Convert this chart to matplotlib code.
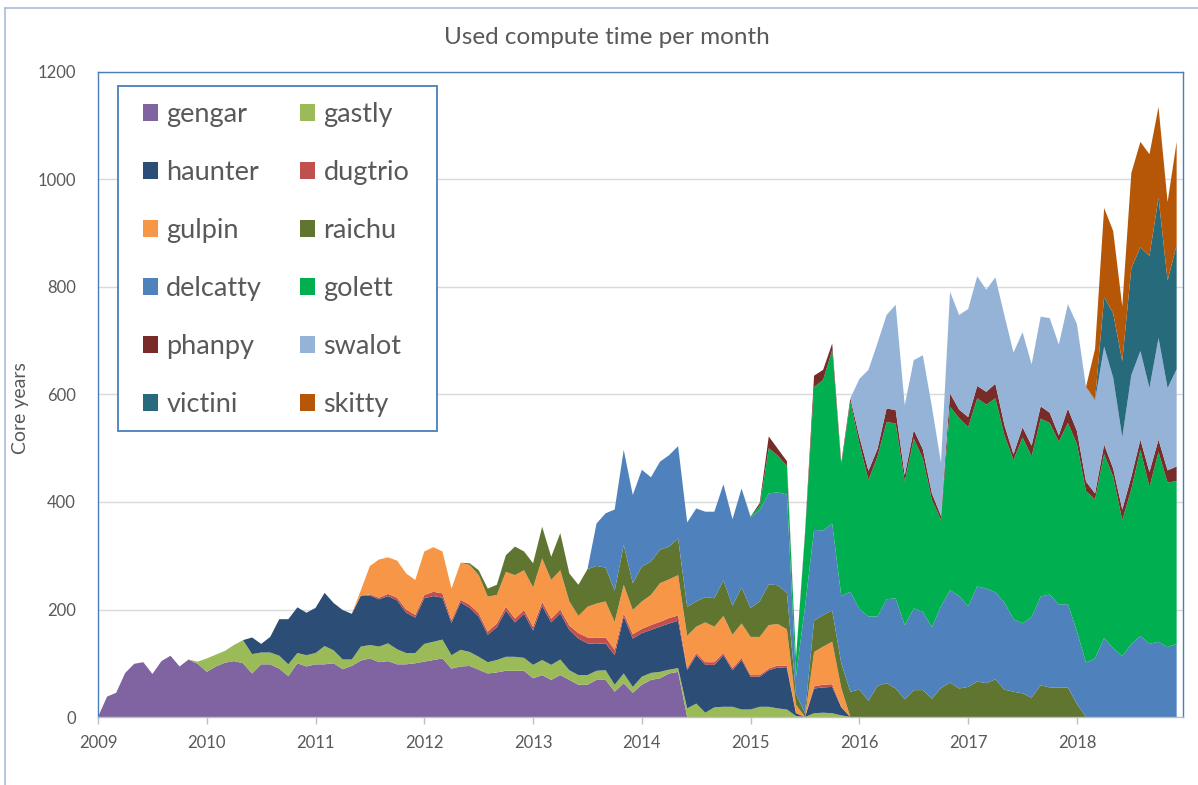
import numpy as np
import matplotlib
matplotlib.use("Agg")
import matplotlib.pyplot as plt
from matplotlib.patches import Rectangle
from matplotlib.lines import Line2D

# ---------------- data (core years per month, Jan 2009 .. Dec 2018) ----------------
names = ["gengar", "gastly", "haunter", "dugtrio", "gulpin", "raichu",
         "delcatty", "golett", "phanpy", "swalot", "victini", "skitty"]
colors = ["#8064A2", "#9BBB59", "#2C4D75", "#C0504D", "#F79646", "#5F7530",
          "#4F81BD", "#00B050", "#772C2A", "#95B3D7", "#276A7C", "#B65708"]

gengar = [0, 38, 45, 82, 99, 102, 80, 104, 114, 94, 107, 99,
          84, 94, 101, 104, 100, 81, 98, 98, 90, 76, 100, 94,
          98, 98, 100, 89, 95, 105, 109, 102, 104, 98, 98, 100,
          103, 106, 109, 90, 94, 95, 88, 81, 83, 86, 86, 86,
          72, 78, 69, 78, 69, 60, 60, 69, 69, 47, 63, 45,
          60, 69, 72, 81, 84] + [0] * 55

gastly = [0, 0, 0, 0, 0, 0, 0, 0, 0, 0, 0, 4,
          25, 22, 22, 30, 43, 36, 22, 22, 24, 22, 19, 21,
          21, 34, 24, 18, 12, 26, 25, 29, 33, 28, 21, 19,
          33, 34, 35, 25, 31, 26, 24, 21, 23, 26, 26, 24,
          25, 28, 28, 29, 18, 18, 18, 17, 18, 13, 18, 11,
          15, 13, 12, 7, 7, 16, 25, 8, 18, 19, 19, 14,
          14, 19, 19, 16, 14, 2, 0, 7, 8, 7, 3, 0] + [0] * 36

haunter = [0] * 12 + [
          0, 0, 0, 0, 0, 31, 16, 29, 68, 84, 85, 79,
          84, 99, 88, 92, 85, 95, 92, 88, 88, 91, 75, 66,
          85, 85, 78, 60, 88, 82, 75, 51, 61, 86, 64, 82,
          64, 101, 79, 86, 75, 68, 59, 50, 50, 55, 106, 90,
          81, 80, 84, 86, 88, 71, 90, 89, 79, 96, 68, 92,
          61, 56, 68, 76, 77, 5, 0, 46, 47, 49, 15, 0] + [0] * 36

dugtrio = [0] * 24 + [
          0, 0, 0, 0, 0, 0, 2, 3, 4, 5, 6, 5,
          6, 8, 8, 5, 5, 6, 6, 6, 7, 7, 7, 7,
          7, 7, 7, 7, 8, 10, 11, 11, 11, 10, 6, 8,
          8, 9, 9, 10, 10, 4, 4, 5, 5, 4, 4, 4,
          3, 3, 3, 4, 4, 1, 0, 4, 5, 5, 1, 0] + [0] * 36

gulpin = [0] * 24 + [
          0, 0, 0, 0, 0, 10, 53, 71, 68, 69, 67, 65,
          81, 83, 78, 59, 69, 74, 71, 65, 53, 65, 81, 74,
          73, 81, 72, 73, 45, 32, 57, 64, 67, 52, 53, 45,
          51, 56, 72, 72, 75, 60, 49, 74, 66, 69, 62, 64,
          71, 71, 81, 77, 68, 15, 0, 64, 71, 79, 35, 0] + [0] * 36

raichu = [0] * 36 + [
          0, 0, 0, 0, 0, 3, 9, 15, 19, 31, 53, 35,
          45, 59, 43, 69, 52, 58, 70, 70, 63, 58, 74, 50,
          65, 62, 62, 61, 68, 54, 47, 47, 53, 66, 54, 67,
          54, 66, 76, 72, 68, 20, 7, 58, 59, 58, 46, 47,
          51, 30, 58, 63, 53, 33, 50, 50, 34, 54, 64, 53,
          56, 66, 63, 70, 51, 47, 44, 36, 59, 55, 55, 55,
          24, 0, 0, 0, 0, 0, 0, 0, 0, 0, 0, 0]

delcatty = [0] * 48 + [
          0, 0, 0, 0, 0, 0, 0, 79, 101, 151, 177, 164,
          180, 157, 164, 170, 172, 157, 173, 159, 161, 179, 161, 184,
          168, 170, 169, 173, 183, 32, 198, 169, 157, 162, 125, 186,
          150, 157, 129, 156, 168, 138, 152, 146, 133, 152, 172, 172,
          150, 177, 176, 162, 162, 135, 130, 150, 165, 173, 154, 155,
          135, 101, 109, 147, 128, 113, 136, 151, 136, 140, 130, 136]

golett = [0] * 72 + [
          2, 8, 84, 68, 53, 34, 133, 266, 280, 323, 243, 354,
          307, 254, 298, 330, 325, 267, 316, 285, 237, 161, 341, 331,
          333, 350, 342, 361, 311, 296, 346, 299, 331, 319, 303, 337,
          349, 319, 296, 342, 319, 253, 288, 346, 292, 353, 306, 303]

phanpy = [0] * 72 + [
          0, 5, 22, 13, 9, 0, 5, 21, 19, 12, 5, 6,
          13, 17, 14, 25, 25, 12, 16, 17, 12, 7, 25, 16,
          19, 23, 24, 27, 19, 11, 19, 20, 23, 19, 12, 27,
          24, 18, 11, 18, 15, 20, 23, 19, 28, 23, 23, 27]

swalot = [0] * 84 + [
          108, 188, 197, 174, 196, 130, 130, 175, 161, 99, 189, 176,
          201, 204, 190, 198, 204, 189, 177, 151, 167, 176, 169, 194,
          199, 176, 173, 182, 169, 134, 189, 165, 156, 189, 153, 181]

victini = [0] * 108 + [0, 0, 2, 92, 120, 142, 199, 193, 246, 261, 200, 231]

skitty = [0] * 108 + [0, 0, 94, 166, 153, 102, 177, 196, 189, 169, 146, 192]

year_ticks = [2009, 2010, 2011, 2012, 2013, 2014, 2015, 2016, 2017, 2018]
y_ticks = [0, 200, 400, 600, 800, 1000, 1200]

# ---------------- figure ----------------
plt.rcParams["font.family"] = ["Lato", "DejaVu Sans"]
W, H = 1198, 785
fig = plt.figure(figsize=(W / 100, H / 100), dpi=100)

def fx(px):
    return px / W

def fy(py):
    return 1 - py / H

ax = fig.add_axes([fx(98), fy(717), fx(1183) - fx(98), fy(72) - fy(717)])

series = [gengar, gastly, haunter, dugtrio, gulpin, raichu,
          delcatty, golett, phanpy, swalot, victini, skitty]
x = 2009 + np.arange(len(gengar)) / 12.0
polys = ax.stackplot(x, *[np.array(s, dtype=float) for s in series],
                     colors=colors, labels=names, linewidth=0, zorder=2)

ax.set_xlim(2009, 2018.975)
ax.set_ylim(0, 1200)
ax.set_yticks(y_ticks)
ax.set_xticks(year_ticks)
ax.set_xticklabels([str(y) for y in year_ticks])
ax.yaxis.grid(True, color="#D9D9D9", linewidth=1.0, zorder=0)
ax.set_axisbelow(True)

for side in ("left", "top", "right"):
    ax.spines[side].set_color("#4A7EBB")
    ax.spines[side].set_linewidth(1.0)
ax.spines["bottom"].set_color("#BFBFBF")
ax.spines["bottom"].set_linewidth(1.0)

ax.tick_params(axis="y", length=0, labelsize=12, labelcolor="#595959", pad=16)
ax.tick_params(axis="x", length=5, width=1, color="#BFBFBF", labelsize=12,
               labelcolor="#595959", pad=8)

fig.text(fx(607), fy(37), "Used compute time per month", ha="center",
         va="center", fontsize=17.5, color="#595959")
fig.text(fx(21), fy(408), "Core years", rotation=90, ha="center",
         va="center", fontsize=14, color="#595959")

# outer chart border (partially visible)
fig.add_artist(Line2D([fx(5), fx(5)], [fy(8), 0], color="#A9BCD8", lw=1.2))
fig.add_artist(Line2D([fx(5), 1], [fy(8), fy(8)], color="#A9BCD8", lw=1.2))

# legend box
box = Rectangle((fx(118), fy(431)), fx(437) - fx(118), fy(86) - fy(431),
                transform=fig.transFigure, facecolor="white",
                edgecolor="#4A7EBB", linewidth=1.3, zorder=5, clip_on=False)
ax.add_patch(box)

order = [0, 2, 4, 6, 8, 10, 1, 3, 5, 7, 9, 11]
handles = [polys[i] for i in order]
labels = [names[i] for i in order]
leg = ax.legend(handles, labels, ncol=2, loc="upper left",
                bbox_to_anchor=(fx(143), fy(102)), bbox_transform=fig.transFigure,
                frameon=False, fontsize=19.5, borderpad=0, borderaxespad=0,
                handlelength=0.56, handleheight=0.56, handletextpad=0.3,
                labelspacing=1.22, columnspacing=1.4)
leg.set_zorder(6)
for t in leg.get_texts():
    t.set_color("#595959")

fig.savefig("out.png", dpi=100)
